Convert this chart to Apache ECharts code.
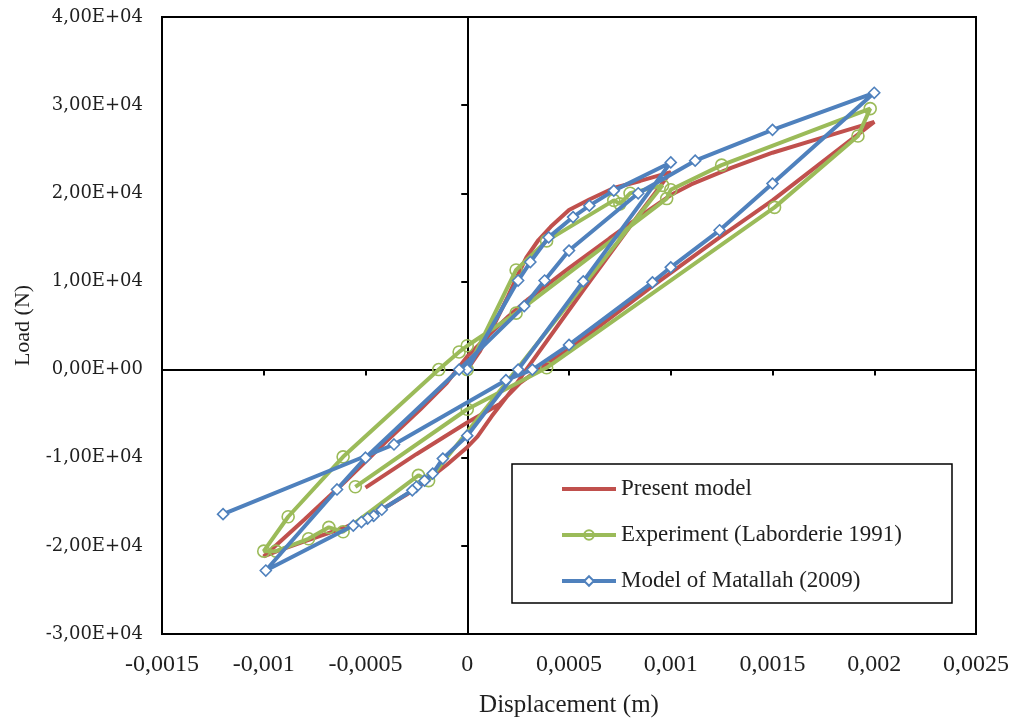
<!DOCTYPE html>
<html>
<head>
<meta charset="utf-8">
<script src="https://cdn.jsdelivr.net/npm/echarts@6/dist/echarts.min.js"></script>
<style>
html,body{margin:0;padding:0;background:#fff;}
#chart{width:1010px;height:718px;}
</style>
</head>
<body>
<div id="chart"></div>
<script>
// ---- axis ticks ----
const X_MIN = -0.0015, X_MAX = 0.0025, X_STEP = 0.0005;
const Y_MIN = -30000, Y_MAX = 40000, Y_STEP = 10000;
const xTickLabels = ['-0,0015','-0,001','-0,0005','0','0,0005','0,001','0,0015','0,002','0,0025'];
const yTickLabels = ['-3,00E+04','-2,00E+04','-1,00E+04','0,00E+00','1,00E+04','2,00E+04','3,00E+04','4,00E+04'];

// ---- series names ----
const seriesNames = ['Present model', 'Experiment (Laborderie 1991)', 'Model of Matallah (2009)'];

// ---- Present model (displacement m, load N) ----
const presentX = [0, 0.00006, 0.00013, 0.0002, 0.00025, 0.00029, 0.00035, 0.00041, 0.0005, 0.0006, 0.00072, 0.00085, 0.001,
  0.00085, 0.00057, 0.00029, 0.00023, 0.00012, 0.00005, 0, -0.0001, -0.0002, -0.0003, -0.0004, -0.0005, -0.0006, -0.0007, -0.0008, -0.0009, -0.001,
  -0.0008, -0.0006, -0.0004, -0.00023, -0.0001, 0, 0.0001, 0.0002, 0.0003, 0.0005, 0.0007, 0.0009, 0.001, 0.0011, 0.0013, 0.0015, 0.0017, 0.002,
  0.0015, 0.00124, 0.0009, 0.0007, 0.0005, 0.0004, 0.00035, 0.00026, 0.00016, 0, -0.00025, -0.0005];
const presentY = [0, 2000, 5000, 8300, 10800, 12700, 14700, 16200, 18100, 19300, 20600, 21400, 22400,
  17800, 9000, 0, -2000, -5300, -7600, -8800, -10800, -12600, -14200, -15600, -16900, -17900, -18700, -19500, -20300, -21200,
  -17000, -12700, -8200, -4500, -1500, 1500, 3800, 6000, 8000, 11500, 14900, 18200, 19800, 21000, 22900, 24600, 26000, 28100,
  19200, 15000, 9300, 5800, 2300, 800, 0, -1500, -3900, -6000, -9600, -13400];

// ---- Experiment (Laborderie 1991) ----
const experimentX = [0, 0.00024, 0.00039, 0.00072, 0.00075, 0.0008, 0.00096,
  -0.00019, -0.00024, -0.00061, -0.00068, -0.00078, -0.00094, -0.001,
  -0.00088, -0.00061, -0.00014, -0.00004, 0, 0.00024, 0.00098, 0.001, 0.00125, 0.00198,
  0.00192, 0.00151, 0.00039, 0, -0.00055];
const experimentY = [0, 11300, 14600, 19200, 18800, 20000, 20900,
  -12600, -12000, -18400, -17900, -19200, -20600, -20600,
  -16700, -9900, 0, 2000, 2700, 6400, 19400, 20400, 23200, 29600,
  26500, 18400, 200, -4500, -13300];

// ---- Model of Matallah (2009) ----
const matallahX = [0, 0.00025, 0.00031, 0.0004, 0.00052, 0.0006, 0.00072, 0.001,
  0.00057, 0.00025, 0, -0.00012, -0.00017, -0.00021, -0.00025, -0.00027, -0.00042, -0.00046, -0.00049, -0.00052, -0.00056, -0.00099,
  -0.00064, -0.0005, -0.00004, 0.00028, 0.00038, 0.0005, 0.00084, 0.00112, 0.0015, 0.002,
  0.0015, 0.00124, 0.001, 0.00091, 0.0005, 0.00032, 0.00019, -0.00036, -0.0012];
const matallahY = [0, 10100, 12200, 15000, 17300, 18600, 20300, 23500,
  10000, 0, -7500, -10100, -11800, -12600, -13300, -13700, -15900, -16600, -16900, -17300, -17700, -22800,
  -13600, -10000, 0, 7200, 10100, 13500, 20000, 23700, 27200, 31400,
  21100, 15800, 11600, 9900, 2800, 0, -1200, -8500, -16400];

const colors = ['#C0504D', '#9BBB59', '#4F81BD'];

function pairs(xs, ys) { return xs.map((x, i) => [x, ys[i]]); }
function xLabel(v) { const i = Math.round((v - X_MIN) / X_STEP); return xTickLabels[i] !== undefined ? xTickLabels[i] : ''; }
function yLabel(v) { const i = Math.round((v - Y_MIN) / Y_STEP); return yTickLabels[i] !== undefined ? yTickLabels[i] : ''; }

const txt = '#1f1f1f';
const LW = 4;
const chart = echarts.init(document.getElementById('chart'), null, { renderer: 'canvas' });
chart.setOption({
  animation: false,
  backgroundColor: '#fff',
  grid: { left: 162, right: 34, top: 17, bottom: 84, show: true, borderColor: '#000', borderWidth: 2, backgroundColor: 'transparent', outerBoundsMode: 'none', containLabel: false },
  xAxis: [
    {
      type: 'value', min: X_MIN, max: X_MAX, interval: X_STEP, position: 'bottom',
      name: 'Displacement (m)', nameLocation: 'middle', nameGap: 59,
      nameTextStyle: { fontFamily: 'Liberation Serif', fontSize: 25, color: txt },
      axisLine: { show: false, onZero: false }, axisTick: { show: false }, splitLine: { show: false },
      axisLabel: { formatter: xLabel, fontFamily: 'Liberation Serif', fontSize: 24, color: txt, margin: 19, showMinLabel: true, showMaxLabel: true }
    },
    {
      type: 'value', min: X_MIN, max: X_MAX, interval: X_STEP, position: 'top',
      axisLine: { show: true, onZero: true, lineStyle: { color: '#000', width: 2 } },
      axisTick: { show: true, inside: true, length: 6, lineStyle: { color: '#000', width: 2 } },
      axisLabel: { show: false }, splitLine: { show: false }
    }
  ],
  yAxis: [
    {
      type: 'value', min: Y_MIN, max: Y_MAX, interval: Y_STEP, position: 'left',
      name: 'Load (N)', nameLocation: 'middle', nameGap: 128,
      nameTextStyle: { fontFamily: 'Liberation Serif', fontSize: 22, color: txt },
      axisLine: { show: false, onZero: false }, axisTick: { show: false }, splitLine: { show: false },
      axisLabel: { formatter: yLabel, fontFamily: '"DejaVu Serif", serif', fontSize: 18, color: txt, margin: 19, showMinLabel: true, showMaxLabel: true }
    },
    {
      type: 'value', min: Y_MIN, max: Y_MAX, interval: Y_STEP, position: 'right',
      axisLine: { show: true, onZero: true, lineStyle: { color: '#000', width: 2 } },
      axisTick: { show: true, inside: true, length: 6, lineStyle: { color: '#000', width: 2 } },
      axisLabel: { show: false }, splitLine: { show: false }
    }
  ],
  legend: {
    orient: 'vertical', left: 512, top: 464,
    padding: [13, 50, 10, 48],
    borderColor: '#000', borderWidth: 1.5, backgroundColor: '#fff',
    itemWidth: 54, itemHeight: 12, itemGap: 22,
    lineStyle: { width: 4 },
    textStyle: { fontFamily: 'Liberation Serif', fontSize: 23, color: txt, lineHeight: 24 },
    data: seriesNames
  },
  series: [
    {
      name: seriesNames[0], type: 'line', data: pairs(presentX, presentY),
      symbol: 'none', showSymbol: false,
      itemStyle: { color: 'rgba(0,0,0,0)', borderWidth: 0 },
      lineStyle: { color: colors[0], width: LW }, z: 2
    },
    {
      name: seriesNames[1], type: 'line', data: pairs(experimentX, experimentY),
      symbol: 'circle', symbolSize: 12,
      itemStyle: { color: 'rgba(255,255,255,0)', borderColor: colors[1], borderWidth: 1.6 },
      lineStyle: { color: colors[1], width: LW }, z: 3
    },
    {
      name: seriesNames[2], type: 'line', data: pairs(matallahX, matallahY),
      symbol: 'diamond', symbolSize: 11,
      itemStyle: { color: '#fff', borderColor: colors[2], borderWidth: 1.6 },
      lineStyle: { color: colors[2], width: LW }, z: 4
    }
  ]
});
</script>
</body>
</html>
